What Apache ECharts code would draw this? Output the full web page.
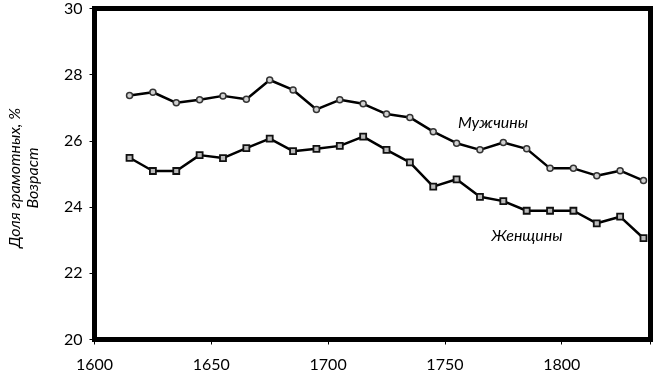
<!DOCTYPE html>
<html>
<head>
<meta charset="utf-8">
<script src="https://cdn.jsdelivr.net/npm/echarts@6/dist/echarts.min.js"></script>
<style>html,body{margin:0;padding:0;background:#fff;}#c{width:660px;height:381px;}</style>
</head>
<body>
<div id="c"></div>
<script>
const years = [1615,1625,1635,1645,1655,1665,1675,1685,1695,1705,1715,1725,1735,1745,1755,1765,1775,1785,1795,1805,1815,1825,1835];
const men = [27.37,27.47,27.15,27.24,27.36,27.26,27.84,27.54,26.95,27.24,27.12,26.81,26.71,26.28,25.93,25.73,25.95,25.76,25.17,25.17,24.95,25.10,24.80];
const women = [25.49,25.09,25.09,25.57,25.48,25.78,26.07,25.69,25.76,25.85,26.13,25.73,25.35,24.62,24.84,24.31,24.18,23.89,23.89,23.89,23.51,23.71,23.06];
const menName = 'Мужчины';
const womenName = 'Женщины';
const yTitle = 'Доля грамотных, %\nВозраст';

const font = 'Lato, "Open Sans", sans-serif';
const chart = echarts.init(document.getElementById('c'), null, {renderer: 'canvas'});
chart.setOption({
  animation: false,
  backgroundColor: '#fff',
  grid: {left: 94.5, right: 9.5, top: 8.5, bottom: 41.5, show: true, borderColor: '#000', borderWidth: 5, backgroundColor: 'transparent'},
  xAxis: {
    type: 'value', min: 1600, max: 1838, interval: 50,
    axisLine: {show: true, lineStyle: {color: '#000', width: 5}},
    axisTick: {show: true, length: 5, lineStyle: {color: '#000', width: 1}},
    splitLine: {show: false},
    axisLabel: {color: '#000', fontFamily: font, fontSize: 16, margin: 17,
      formatter: v => (v % 50 === 0 ? String(v) : '')}
  },
  yAxis: {
    type: 'value', min: 20, max: 30, interval: 2,
    axisLine: {show: true, lineStyle: {color: '#000', width: 5}},
    axisTick: {show: true, length: 5, lineStyle: {color: '#000', width: 1}},
    splitLine: {show: false},
    axisLabel: {color: '#000', fontFamily: font, fontSize: 16, margin: 12}
  },
  graphic: [
    {type: 'text', x: 24, y: 178, rotation: Math.PI / 2,
      style: {text: yTitle, fill: '#000', font: 'italic 16px ' + font, align: 'center', verticalAlign: 'middle', lineHeight: 18}},
    {type: 'text', x: 493, y: 123,
      style: {text: menName, fill: '#000', font: 'italic 16px ' + font, align: 'center', verticalAlign: 'middle'}},
    {type: 'text', x: 527, y: 236,
      style: {text: womenName, fill: '#000', font: 'italic 16px ' + font, align: 'center', verticalAlign: 'middle'}}
  ],
  series: [
    {name: menName, type: 'line', data: years.map((y, i) => [y, men[i]]),
      symbol: 'circle', symbolSize: 6,
      lineStyle: {color: '#000', width: 2.5},
      itemStyle: {color: '#d0d0d0', borderColor: '#333', borderWidth: 1.5}},
    {name: womenName, type: 'line', data: years.map((y, i) => [y, women[i]]),
      symbol: 'rect', symbolSize: 6,
      lineStyle: {color: '#000', width: 2.5},
      itemStyle: {color: '#bbb', borderColor: '#111', borderWidth: 1.8}}
  ]
});
</script>
</body>
</html>
